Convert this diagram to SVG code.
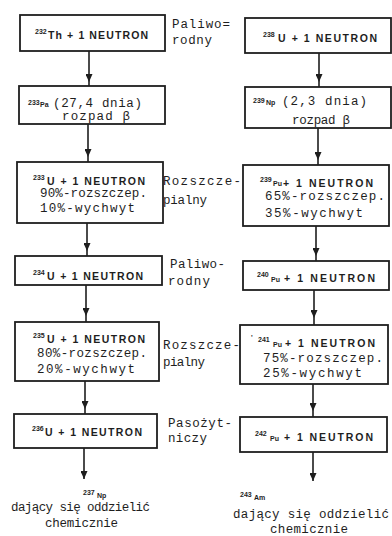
<svg xmlns="http://www.w3.org/2000/svg" width="392" height="536" viewBox="0 0 392 536">
  <style>
    .box { fill: #ffffff; stroke: #1e1e1e; stroke-width: 1.8; }
    .edge { fill: none; stroke: #1e1e1e; stroke-width: 1.6; }
    .hd { font-family: "Liberation Sans", Arial, sans-serif; font-weight: bold; font-size: 10.5px; fill: #1e1e1e; }
    .sm { font-family: "Liberation Sans", Arial, sans-serif; font-weight: bold; font-size: 7px; fill: #1e1e1e; }
    .tw { font-family: "Liberation Mono", "Courier New", monospace; font-size: 12.5px; fill: #1e1e1e; }
  </style>
  <defs>
    <marker id="head" viewBox="0 0 8 7" refX="8" refY="3.5" markerWidth="8" markerHeight="7" markerUnits="userSpaceOnUse" orient="auto">
      <polygon points="0,0 8,3.5 0,7" fill="#1e1e1e"/>
    </marker>
  </defs>

  <rect width="392" height="536" fill="#ffffff"/>

  <!-- connectors -->
  <g id="connectors">
    <path class="edge" d="M89,51 V82 V86" marker-mid="url(#head)"/>
    <path class="edge" d="M88,124 V157 V162" marker-mid="url(#head)"/>
    <path class="edge" d="M87,223 V251 V256" marker-mid="url(#head)"/>
    <path class="edge" d="M86,285 V316 V322" marker-mid="url(#head)"/>
    <path class="edge" d="M85,381 V409 V414" marker-mid="url(#head)"/>
    <path class="edge" d="M84,448 V479" marker-end="url(#head)"/>

    <path class="edge" d="M319,53 V82 V87" marker-mid="url(#head)"/>
    <path class="edge" d="M318,128 V160 V165" marker-mid="url(#head)"/>
    <path class="edge" d="M316,226 V256 V261" marker-mid="url(#head)"/>
    <path class="edge" d="M314,290 V318 V325" marker-mid="url(#head)"/>
    <path class="edge" d="M313,384 V411 V417" marker-mid="url(#head)"/>
    <path class="edge" d="M313,452 V481" marker-end="url(#head)"/>
  </g>

  <!-- thorium chain -->
  <g id="th232">
    <rect class="box" x="20" y="15" width="145" height="36"/>
    <text class="sm" x="35" y="34">232</text>
    <text class="hd" x="48" y="39" textLength="100" lengthAdjust="spacing">Th + 1 NEUTRON</text>
  </g>
  <g id="pa233">
    <rect class="box" x="19" y="86" width="146" height="38"/>
    <text class="sm" x="28" y="105" font-size="6.5">233</text>
    <text class="sm" x="40" y="107" font-size="6.5">Pa</text>
    <text class="tw" x="53" y="107" textLength="89" lengthAdjust="spacing">(27,4 dnia)</text>
    <text class="tw" x="62" y="120" textLength="68" lengthAdjust="spacing">rozpad β</text>
  </g>
  <g id="u233">
    <rect class="box" x="17" y="162" width="146" height="61"/>
    <text class="sm" x="33" y="180">233</text>
    <text class="hd" x="47" y="185" textLength="98" lengthAdjust="spacing">U + 1 NEUTRON</text>
    <text class="tw" x="40" y="197" textLength="107" lengthAdjust="spacing">90%-rozszczep.</text>
    <text class="tw" x="40" y="212" textLength="95" lengthAdjust="spacing">10%-wychwyt</text>
  </g>
  <g id="u234">
    <rect class="box" x="15" y="256" width="147" height="29"/>
    <text class="sm" x="33" y="275">234</text>
    <text class="hd" x="47" y="280" textLength="96" lengthAdjust="spacing">U + 1 NEUTRON</text>
  </g>
  <g id="u235">
    <rect class="box" x="15" y="322" width="144" height="59"/>
    <text class="sm" x="33" y="338">235</text>
    <text class="hd" x="47" y="343" textLength="98" lengthAdjust="spacing">U + 1 NEUTRON</text>
    <text class="tw" x="37" y="357" textLength="110" lengthAdjust="spacing">80%-rozszczep.</text>
    <text class="tw" x="37" y="373" textLength="98" lengthAdjust="spacing">20%-wychwyt</text>
  </g>
  <g id="u236">
    <rect class="box" x="14" y="414" width="143" height="34"/>
    <text class="sm" x="32" y="431">236</text>
    <text class="hd" x="45" y="436" textLength="97" lengthAdjust="spacing">U + 1 NEUTRON</text>
  </g>
  <g id="np237">
    <text class="sm" x="83" y="495">237</text>
    <text class="sm" x="97" y="498" font-weight="normal">Np</text>
    <text class="tw" x="11" y="511" font-size="11.5px" textLength="139" lengthAdjust="spacing">dający się oddzielić</text>
    <text class="tw" x="45" y="527" font-size="11.5px" textLength="73" lengthAdjust="spacing">chemicznie</text>
  </g>

  <!-- uranium-plutonium chain -->
  <g id="u238">
    <rect class="box" x="245" y="18" width="146" height="35"/>
    <text class="sm" x="263" y="37">238</text>
    <text class="hd" x="278" y="42" textLength="99" lengthAdjust="spacing">U + 1 NEUTRON</text>
  </g>
  <g id="np239">
    <rect class="box" x="245" y="87" width="146" height="41"/>
    <text class="sm" x="253" y="103" font-size="6.5">239</text>
    <text class="sm" x="266" y="105" font-size="6.5">Np</text>
    <text class="tw" x="282" y="105" textLength="85" lengthAdjust="spacing">(2,3 dnia)</text>
    <text class="tw" x="292" y="124" textLength="58" lengthAdjust="spacing">rozpad β</text>
  </g>
  <g id="pu239">
    <rect class="box" x="243" y="165" width="146" height="61"/>
    <text class="sm" x="260" y="182">239</text>
    <text class="sm" x="273" y="186" font-size="7.5">Pu</text>
    <text class="hd" x="283" y="187" textLength="90" lengthAdjust="spacing">+ 1 NEUTRON</text>
    <text class="tw" x="265" y="200" textLength="120" lengthAdjust="spacing">65%-rozszczep.</text>
    <text class="tw" x="265" y="217" textLength="98" lengthAdjust="spacing">35%-wychwyt</text>
  </g>
  <g id="pu240">
    <rect class="box" x="243" y="261" width="146" height="29"/>
    <text class="sm" x="257" y="277">240</text>
    <text class="sm" x="271" y="282" font-size="7.5">Pu</text>
    <text class="hd" x="284" y="282" textLength="91" lengthAdjust="spacing">+ 1 NEUTRON</text>
  </g>
  <g id="pu241">
    <rect class="box" x="240" y="325" width="148" height="59"/>
    <text class="sm" x="251" y="340">'</text>
    <text class="sm" x="258" y="342">241</text>
    <text class="sm" x="273" y="347" font-size="7.5">Pu</text>
    <text class="hd" x="285" y="347" textLength="90" lengthAdjust="spacing">+ 1 NEUTRON</text>
    <text class="tw" x="263" y="362" textLength="120" lengthAdjust="spacing">75%-rozszczep.</text>
    <text class="tw" x="263" y="377" textLength="99" lengthAdjust="spacing">25%-wychwyt</text>
  </g>
  <g id="pu242">
    <rect class="box" x="240" y="417" width="147" height="35"/>
    <text class="sm" x="255" y="436">242</text>
    <text class="sm" x="270" y="441" font-size="7.5">Pu</text>
    <text class="hd" x="284" y="441" textLength="89" lengthAdjust="spacing">+ 1 NEUTRON</text>
  </g>
  <g id="am243">
    <text class="sm" x="240" y="497">243</text>
    <text class="sm" x="254" y="500" font-weight="normal">Am</text>
    <text class="tw" x="233" y="518" font-size="12.5px" textLength="156" lengthAdjust="spacing">dający się oddzielić</text>
    <text class="tw" x="270" y="533" font-size="12.5px" textLength="78" lengthAdjust="spacing">chemicznie</text>
  </g>

  <!-- classification of each isotope pair -->
  <g id="labels">
    <text class="tw" x="172" y="28" textLength="58" lengthAdjust="spacing">Paliwo=</text>
    <text class="tw" x="172" y="44" textLength="40" lengthAdjust="spacing">rodny</text>
    <text class="tw" x="163" y="185" textLength="78" lengthAdjust="spacing">Rozszcze-</text>
    <text class="tw" x="163" y="204" textLength="44" lengthAdjust="spacing">pialny</text>
    <text class="tw" x="170" y="268" textLength="55" lengthAdjust="spacing">Paliwo-</text>
    <text class="tw" x="168" y="285" textLength="42" lengthAdjust="spacing">rodny</text>
    <text class="tw" x="163" y="349" textLength="77" lengthAdjust="spacing">Rozszcze-</text>
    <text class="tw" x="163" y="366" textLength="42" lengthAdjust="spacing">pialny</text>
    <text class="tw" x="168" y="427" textLength="64" lengthAdjust="spacing">Pasożyt-</text>
    <text class="tw" x="168" y="442" textLength="39" lengthAdjust="spacing">niczy</text>
  </g>
</svg>
